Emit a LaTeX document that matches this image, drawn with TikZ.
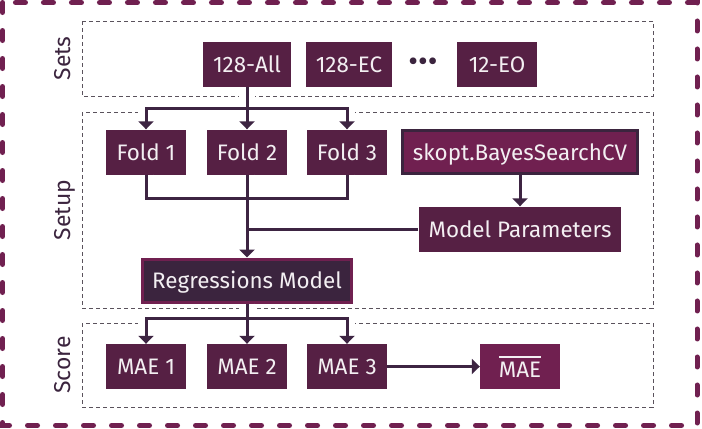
\documentclass[tikz,border=0pt]{standalone}
\usepackage{fontspec}
\setmainfont{Fira Sans}
\usetikzlibrary{positioning,arrows.meta,calc}

\definecolor{setfill}{RGB}{86,32,68}
\definecolor{toolfill}{RGB}{112,32,80}
\definecolor{darkfill}{RGB}{59,36,62}
\definecolor{linkcol}{RGB}{61,36,66}
\definecolor{stageline}{RGB}{90,82,92}

\tikzset{
  setbox/.style={fill=setfill,text=white!93!setfill,minimum width=80bp,minimum height=45bp,
    inner xsep=10bp,text height=16bp,text depth=0bp,font=\fontsize{22.5}{26}\selectfont},
  toolbox/.style={setbox,fill=toolfill,draw=darkfill,line width=3bp,minimum height=43bp},
  modelbox/.style={setbox,fill=darkfill,draw=toolfill,line width=3bp,minimum height=43bp},
  stage/.style={draw=stageline,line width=0.9bp,dash pattern=on 4bp off 3bp},
  stagelabel/.style={rotate=90,anchor=base,text=darkfill,font=\fontsize{23}{26}\selectfont},
  hv/.style={to path={-| (\tikztotarget)}},
  vh/.style={to path={|- (\tikztotarget)}},
}

\newcommand\flowlinks{
  (set128all.south) edge[tip] (fold2.north)
  (setsplit) edge[hv,tip] (fold1.north)
  (setsplit) edge[hv,tip] (fold3.north)
  (fold1.south) edge[vh] (foldjoin)
  (fold3.south) edge[vh] (foldjoin)
  (fold2.south) edge[tip] (regr.north)
  (skopt.south) edge[tip] (params.north)
  (params.west) edge (params.west -| fold2)
  (regr.south) edge[tip] (mae2.north)
  (scoresplit) edge[hv,tip] (mae1.north)
  (scoresplit) edge[hv,tip] (mae3.north)
  (mae3.east) edge[tip] (maebar.west)
}

\begin{document}
\begin{tikzpicture}[x=1bp,y=1bp,node distance=100bp,on grid]
  \useasboundingbox (0,0) rectangle (702,-428);

  % outer frame and stages
  \draw[draw=toolfill,line width=5bp,line cap=round,dash pattern=on 10bp off 18bp]
    (2.5,-2.5) rectangle (697,-425.5);
  \draw[stage] (82,-21) rectangle (653,-96);
  \draw[stage] (82,-112) rectangle (653,-308);
  \draw[stage] (82,-323) rectangle (653,-407);
  \node[stagelabel] (setslabel) at (70,-58.5) {Sets};
  \node[stagelabel] (setuplabel) at (70,-210) {Setup};
  \node[stagelabel] (scorelabel) at (70,-365) {Score};

  % sets
  \node[setbox] (set128all) at (247,-64.5) {128-All};
  \node[setbox] (set128ec) [right=102bp of set128all] {128-EC};
  \node[text=darkfill,inner sep=0pt,font=\fontsize{30}{32}\selectfont] (setdots) [right=74bp of set128ec] {•••};
  \node[setbox] (set12eo) [right=74bp of setdots] {12-EO};

  % setup
  \node[setbox] (fold2) [below=87.5bp of set128all] {Fold 2};
  \node[setbox] (fold1) [left=101bp of fold2] {Fold 1};
  \node[setbox] (fold3) [right=100bp of fold2] {Fold 3};
  \node[toolbox] (skopt) [right=173bp of fold3] {skopt.BayesSearchCV};
  \node[setbox] (params) [below=77bp of skopt] {Model Parameters};
  \node[modelbox] (regr) [below=128.5bp of fold2] {Regressions Model};

  % score
  \node[setbox] (mae2) [below=86bp of regr] {MAE 2};
  \node[setbox] (mae1) [left=101bp of mae2] {MAE 1};
  \node[setbox] (mae3) [right=100bp of mae2] {MAE 3};
  \node[setbox,fill=toolfill,text height=22bp] (maebar) [right=173bp of mae3]
    {\vbox{\hrule height 2.2bp\kern4bp\hbox{MAE}}};

  \coordinate (setsplit) at ($(set128all.south)!0.5!(fold2.north)$);
  \coordinate (foldjoin) at ([yshift=-24bp]fold2.south);
  \coordinate (scoresplit) at ([yshift=-15bp]regr.south);

  % white halo first, then the links
  \draw[tip/.style={},every edge/.style={draw=white,line width=16bp}] \flowlinks;
  \draw[tip/.style={-{Triangle[width=15bp,length=8bp]}},
        every edge/.style={draw=linkcol,line width=3bp}] \flowlinks;
\end{tikzpicture}
\end{document}
